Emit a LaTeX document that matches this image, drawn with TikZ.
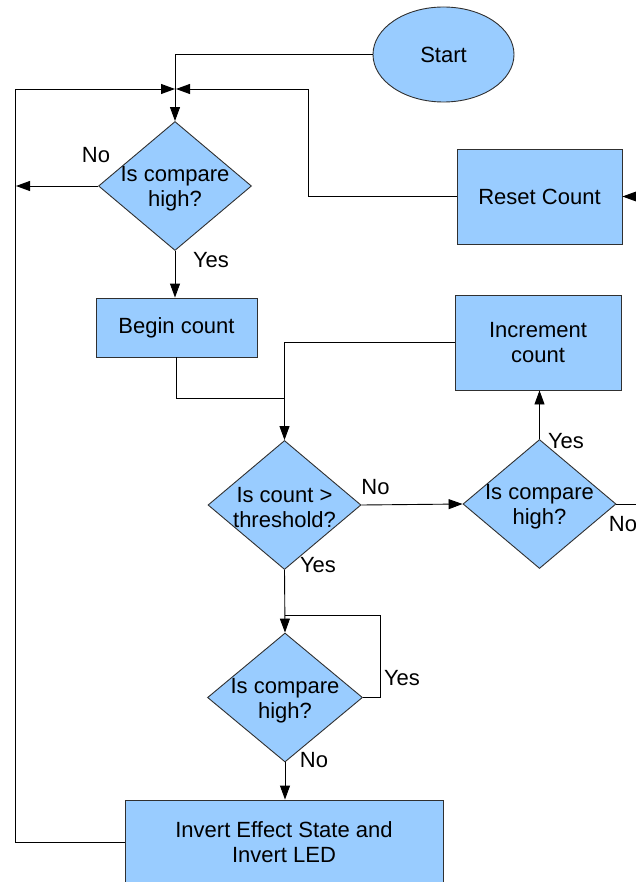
\documentclass[tikz,border=0pt]{standalone}
\usepackage{fontspec}
\setmainfont{Liberation Sans}
\usetikzlibrary{shapes.geometric,arrows.meta}
\definecolor{boxblue}{HTML}{99CCFF}
\definecolor{edgegray}{HTML}{303030}
\begin{document}
\begin{tikzpicture}[x=1pt,y=-1pt,
  every node/.style={font=\fontsize{22}{25}\selectfont},
  proc/.style={draw=edgegray, fill=boxblue, line width=0.9pt, inner sep=0pt, align=center},
  dec/.style={diamond, draw=edgegray, fill=boxblue, line width=0.9pt, inner sep=0pt, minimum width=153pt, minimum height=129pt},
  term/.style={ellipse, draw=edgegray, fill=boxblue, line width=0.9pt, inner sep=0pt, minimum width=141pt, minimum height=95pt},
  txt/.style={align=center, inner sep=0pt, yshift=-3pt},
  lbl/.style={inner sep=0pt},
  conn/.style={line width=0.9pt},
  arr/.style={conn, -{Triangle[length=14pt,width=10pt]}}]
\clip (0,0) rectangle (636,882);
% nodes
\node[term] (start) at (443.5,54.5) {Start};
\node[proc, minimum width=165pt, minimum height=95pt] (reset) at (539.5,196.5) {Reset Count};
\node[dec] (d1) at (175,186) {};
\node[txt] (t1) at (d1) {Is compare\\high?};
\node[proc, minimum width=161pt, minimum height=59pt] (begin) at (176.5,327.5) {Begin count};
\node[proc, minimum width=166pt, minimum height=95pt] (inc) at (538,342.5) {Increment\\count};
\node[dec] (d2) at (284.5,505) {};
\node[txt] (t2) at (d2) {Is count >\\threshold?};
\node[dec] (d4) at (539.5,504) {};
\node[txt] (t4) at (d4) {Is compare\\high?};
\node[dec, minimum width=155pt] (d3) at (285,697.5) {};
\node[txt] (t3) at (d3) {Is compare\\high?};
\node[proc, minimum width=318pt, minimum height=85pt] (inv) at (284,842.5) {Invert Effect State and\\Invert LED};
% helper coordinates
\coordinate (jl) at (175,89);
\coordinate (jr) at (176,89);
\coordinate (lx) at (15,0);
\coordinate (rx) at (308,0);
\coordinate (offR) at (650,196.5);
\coordinate (offR2) at (650,504);
\coordinate (j2) at (284.5,398);
\coordinate (j3) at (285,615);
\coordinate (j3r) at (380,615);
% connectors
\draw[arr] (start.west) -| (d1.north);
\draw[arr] (inv.west) -| (lx |- jl) -- (jl);
\draw[arr] (reset.west) -| (rx |- jr) -- (jr);
\draw[arr] (offR) -- (reset.east);
\draw[arr, shorten >=1pt] (d1.west) -- (d1.west -| lx);
\draw[arr] (d1.south) -- (d1.south |- begin.north);
\draw[conn] (begin.south) |- (j2);
\draw[arr] (inc.west) -| (d2.north);
\draw[arr] (d2.east) -- (d4.west);
\draw[arr] (d4.north) -- (d4.north |- inc.south);
\draw[conn] (d4.east) -- (offR2);
\draw[arr] (d2.south) -- (d3.north);
\draw[conn] (d3.east) -| (j3r) -- (j3);
\draw[arr] (d3.south) -- (d3.south |- inv.north);
% labels
\node[lbl] (l1) at (96,155) {No};
\node[lbl] (l2) at (211,260) {Yes};
\node[lbl] (l3) at (375.5,487.5) {No};
\node[lbl] (l4) at (318,565) {Yes};
\node[lbl] (l5) at (566,441) {Yes};
\node[lbl] (l6) at (623,524) {No};
\node[lbl] (l7) at (402,678) {Yes};
\node[lbl] (l8) at (314,760) {No};
\end{tikzpicture}
\end{document}
